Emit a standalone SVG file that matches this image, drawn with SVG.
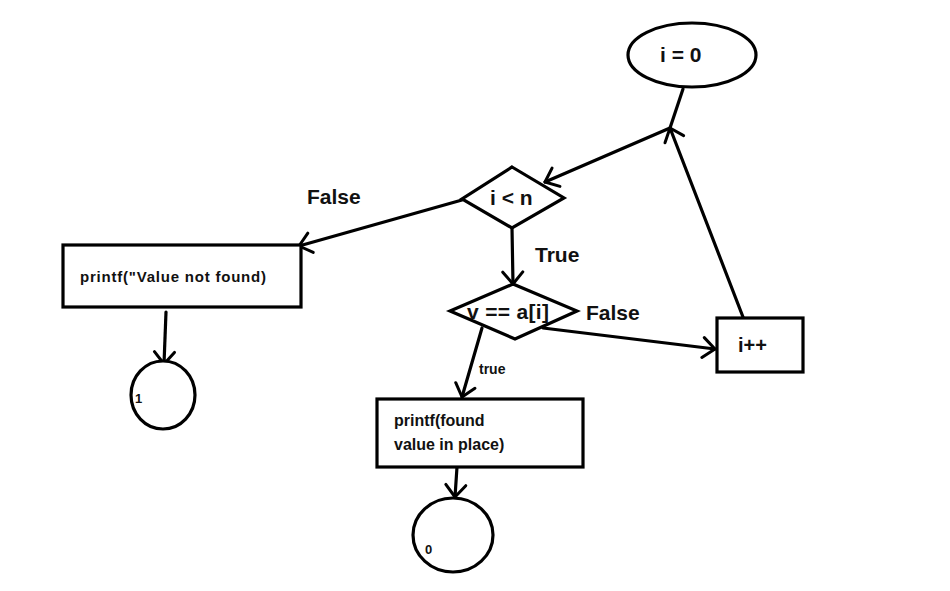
<svg xmlns="http://www.w3.org/2000/svg" width="950" height="591" viewBox="0 0 950 591">
<defs>
<marker id="v" markerWidth="20" markerHeight="24" refX="14" refY="12" orient="auto" markerUnits="userSpaceOnUse">
<path d="M2,2 L14,12 L2,22" fill="none" stroke="#000" stroke-width="3" stroke-linecap="round" stroke-linejoin="round"/>
</marker>
<style>
.s{fill:#fff;stroke:#000;stroke-width:3.2}
.c{fill:none;stroke:#000;stroke-width:3.2;stroke-linecap:round}
.t{font-family:"Liberation Sans",Arial,sans-serif;font-weight:bold;fill:#111}
</style>
</defs>
<rect width="950" height="591" fill="#fff"/>
<g id="connectors">
<path class="c" d="M683,89 L670,128"/>
<path class="c" d="M670,128 L545,182" marker-end="url(#v)"/>
<path class="c" d="M743,317 L670,128" marker-end="url(#v)"/>
<path class="c" d="M462,200 L299,246" marker-end="url(#v)"/>
<path class="c" d="M166,312 L164,364" marker-end="url(#v)"/>
<path class="c" d="M512,228 L513,284" marker-end="url(#v)"/>
<path class="c" d="M543,328 L715,349" marker-end="url(#v)"/>
<path class="c" d="M482,328 L462,397" marker-end="url(#v)"/>
<path class="c" d="M457,467 L455,497" marker-end="url(#v)"/>
</g>
<g id="start">
<ellipse class="s" cx="692" cy="55" rx="64" ry="32"/>
<text class="t" x="660" y="62" font-size="21">i = 0</text>
</g>
<g id="cond1">
<polygon class="s" points="512,167 564,198 512,228 462,199"/>
<text class="t" x="490" y="205" font-size="21">i &lt; n</text>
</g>
<g id="notfound">
<rect class="s" x="63" y="245" width="238" height="62"/>
<text class="t" x="80" y="282" font-size="15" textLength="186">printf("Value not found)</text>
</g>
<g id="end1">
<ellipse class="s" cx="163" cy="395" rx="32" ry="34"/>
<text class="t" x="135" y="403" font-size="13">1</text>
</g>
<g id="cond2">
<polygon class="s" points="513,284 577,311 515,339 450,311"/>
<text class="t" x="467" y="319" font-size="21" textLength="82">v == a[i]</text>
</g>
<g id="incr">
<rect class="s" x="717" y="318" width="86" height="54"/>
<text class="t" x="738" y="352" font-size="20">i++</text>
</g>
<g id="found">
<rect class="s" x="377" y="399" width="206" height="68"/>
<text class="t" x="394" y="426" font-size="16">printf(found</text>
<text class="t" x="394" y="450" font-size="16">value in place)</text>
</g>
<g id="end0">
<ellipse class="s" cx="453" cy="535" rx="40" ry="37"/>
<text class="t" x="425" y="554" font-size="13">0</text>
</g>
<g id="labels">
<text class="t" x="307" y="204" font-size="21">False</text>
<text class="t" x="535" y="262" font-size="21">True</text>
<text class="t" x="586" y="320" font-size="21">False</text>
<text class="t" x="479" y="374" font-size="14">true</text>
</g>
</svg>
